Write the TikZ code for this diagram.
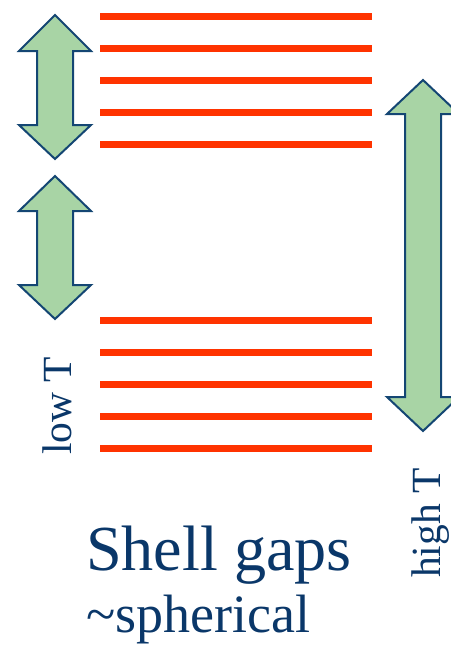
\documentclass[tikz,border=0pt]{standalone}
\usepackage{fontspec}
\setmainfont{Liberation Serif}
\definecolor{lvl}{RGB}{255,51,0}
\definecolor{arrfill}{RGB}{168,212,165}
\definecolor{arrline}{RGB}{20,70,115}
\definecolor{txt}{RGB}{10,55,105}
\tikzset{
  level/.style={draw=lvl, line width=7pt},
  dblarrow/.style={fill=arrfill, draw=arrline, line width=2pt, line join=miter},
  lbl/.style={text=txt, inner sep=0pt}
}
\begin{document}
\begin{tikzpicture}[x=1pt,y=-1pt]
\useasboundingbox (0,0) rectangle (450,648);
% energy levels
\foreach \yy in {16,48,80,112,144,320,352,384,416,448}
  \draw[level] (100,\yy) -- (372,\yy);
% left arrows
\draw[dblarrow] (55,15) -- (91,51) -- (73,51) -- (73,125) -- (91,125) -- (55,159) -- (19,125) -- (37,125) -- (37,51) -- (19,51) -- cycle;
\draw[dblarrow] (55,176) -- (91,211) -- (73,211) -- (73,285) -- (91,285) -- (55,319) -- (19,285) -- (37,285) -- (37,211) -- (19,211) -- cycle;
% right arrow
\draw[dblarrow] (423,80) -- (459,114) -- (441,114) -- (441,397) -- (459,397) -- (423,431) -- (387,397) -- (405,397) -- (405,114) -- (387,114) -- cycle;
% labels
\node[lbl, rotate=90, font=\fontsize{41.5}{41.5}\selectfont] (lowT) at (57.5,406) {low T};
\node[lbl, rotate=90, font=\fontsize{41.5}{41.5}\selectfont] (highT) at (430.5,523) {high T};
\node[lbl, anchor=base west, font=\fontsize{64.2}{64.2}\selectfont] (gaps) at (86,570) {Shell gaps};
\node[lbl, anchor=base west, font=\fontsize{54}{54}\selectfont] (sph) at (86,632) {\char"007E spherical};
\end{tikzpicture}
\end{document}
